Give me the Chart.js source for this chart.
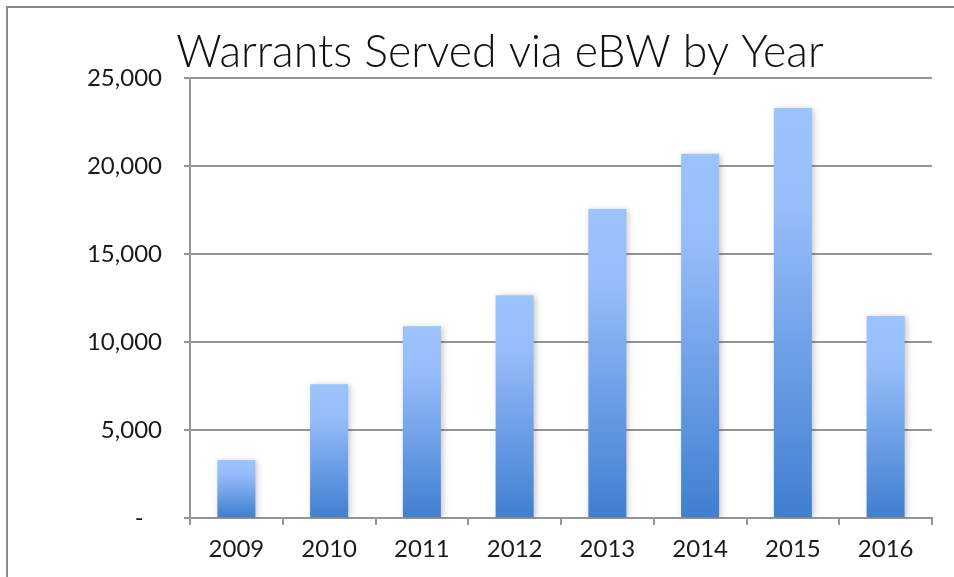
<!DOCTYPE html>
<html>
<head>
<meta charset="utf-8">
<script src="https://cdn.jsdelivr.net/npm/chart.js@4"></script>
<style>
  html, body { margin: 0; padding: 0; background: #fff; }
  #wrap { position: relative; width: 954px; height: 577px; }
</style>
</head>
<body>
<div id="wrap"><canvas id="warrantsChart" width="954" height="577"></canvas></div>
<script>
const years = ['2009', '2010', '2011', '2012', '2013', '2014', '2015', '2016'];
const warrantsServed = [3300, 7600, 10900, 12650, 17550, 20700, 23300, 11480];
const yTicks = [0, 5000, 10000, 15000, 20000, 25000];

const GRID = '#959595';
const FONT = 'Lato, "Open Sans", sans-serif';

/* ───── outer frame (left + top edge) ───── */
const framePlugin = {
  id: 'frame',
  beforeDraw(chart) {
    const ctx = chart.ctx;
    ctx.save();
    ctx.strokeStyle = '#8a8a8a';
    ctx.lineWidth = 2;
    ctx.beginPath();
    ctx.moveTo(7, chart.height);
    ctx.lineTo(7, 7);
    ctx.lineTo(chart.width, 7);
    ctx.stroke();
    ctx.restore();
  }
};

/* ───── soft shadow behind the bars ───── */
const shadowPlugin = {
  id: 'barShadow',
  beforeDatasetsDraw(chart) {
    const ctx = chart.ctx;
    ctx.save();
    ctx.shadowColor = 'rgba(0,0,0,0.22)';
    ctx.shadowBlur = 6;
    ctx.shadowOffsetX = 2;
    ctx.shadowOffsetY = 1;
  },
  afterDatasetsDraw(chart) {
    chart.ctx.restore();
  }
};

// each bar fades from light blue on top to deeper blue at the base
function barGradient(context) {
  const chart = context.chart;
  const y = chart.scales.y;
  if (!chart.chartArea || !y || context.type !== 'data') return '#7aa8ee';
  const top = y.getPixelForValue(context.raw);
  const base = y.getPixelForValue(0);
  if (!isFinite(top) || !isFinite(base) || top === base) return '#7aa8ee';
  const g = chart.ctx.createLinearGradient(0, top, 0, base);
  g.addColorStop(0, '#9dc3fd');
  g.addColorStop(0.25, '#96bcfa');
  g.addColorStop(1, '#3f7fcf');
  return g;
}

new Chart(document.getElementById('warrantsChart'), {
  type: 'bar',
  data: {
    labels: years,
    datasets: [{
      label: 'Warrants Served',
      data: warrantsServed,
      backgroundColor: barGradient,
      borderWidth: 0,
      barPercentage: 0.41,
      categoryPercentage: 1
    }]
  },
  options: {
    responsive: false,
    animation: false,
    layout: { padding: { left: 68, right: 22, top: 0, bottom: 0 } },
    plugins: {
      legend: { display: false },
      tooltip: { enabled: false },
      title: {
        display: true,
        text: 'Warrants Served via eBW by Year',
        color: '#111',
        font: { family: FONT, size: 44.6, weight: '300', lineHeight: 1.0 },
        padding: { top: 30, bottom: 3.4 }
      }
    },
    scales: {
      x: {
        afterFit(scale) { scale.height = 59; },
        grid: {
          drawOnChartArea: false,
          drawTicks: true,
          tickLength: 7,
          color: GRID,
          lineWidth: 2
        },
        border: { color: GRID, width: 2 },
        ticks: {
          color: '#1a1a1a',
          padding: 10,
          font: { family: FONT, size: 24 }
        }
      },
      y: {
        min: 0,
        max: 25000,
        afterFit(scale) { scale.width = 122; },
        afterBuildTicks(scale) { scale.ticks = yTicks.map(v => ({ value: v })); },
        grid: {
          color: GRID,
          lineWidth: 2,
          tickLength: 6
        },
        border: { color: GRID, width: 2 },
        ticks: {
          color: '#1a1a1a',
          padding: 22,
          font: { family: FONT, size: 24 },
          callback: v => v === 0 ? '-   ' : v.toLocaleString('en-US')
        }
      }
    }
  },
  plugins: [framePlugin, shadowPlugin]
});
</script>
</body>
</html>
